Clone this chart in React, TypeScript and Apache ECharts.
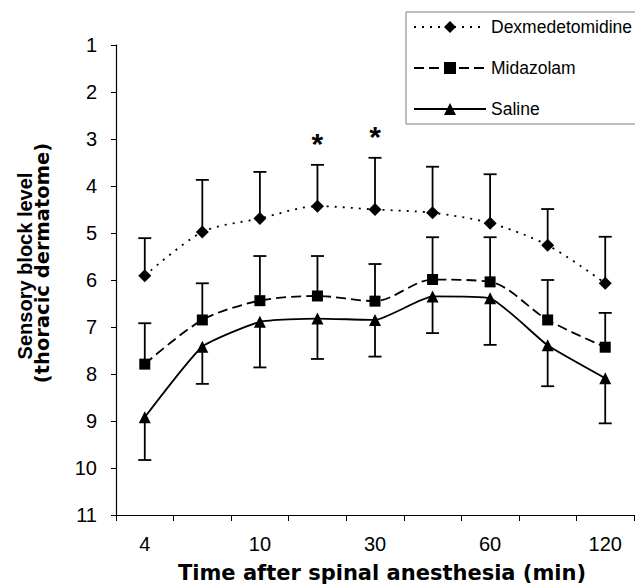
import React, { useEffect, useRef } from 'react';
import * as echarts from 'echarts';

// Time points (min); only every other label is printed on the axis
const categories = ['4', '6', '10', '20', '30', '45', '60', '90', '120'];

// Dexmedetomidine: mean and upper error (smaller number = higher dermatome)
const dexMean = [5.91, 4.98, 4.69, 4.43, 4.5, 4.57, 4.79, 5.26, 6.07];
const dexUpper = [5.11, 3.87, 3.7, 3.55, 3.4, 3.59, 3.75, 4.49, 5.08];

// Midazolam
const midMean = [7.79, 6.85, 6.44, 6.34, 6.45, 5.99, 6.04, 6.85, 7.43];
const midUpper = [6.92, 6.07, 5.49, 5.49, 5.66, 5.09, 5.09, 6.0, 6.7];

// Saline: mean and lower error
const salMean = [8.92, 7.42, 6.89, 6.82, 6.85, 6.35, 6.39, 7.39, 8.09];
const salLower = [9.83, 8.21, 7.86, 7.68, 7.63, 7.13, 7.38, 8.26, 9.05];

// Significant time points (asterisks)
const starIdx = [3, 4];

const seriesNames = ['Dexmedetomidine', 'Midazolam', 'Saline'];

const errorBarSeries = (name: string, mean: number[], end: number[]) => ({
  type: 'custom',
  name: name + ' SD',
  z: 1,
  silent: true,
  encode: { x: 0, y: [1, 2] },
  data: mean.map((m, i) => [i, m, end[i]]),
  renderItem: (params: any, api: any) => {
    const idx = api.value(0);
    const p1 = api.coord([idx, api.value(1)]);
    const p2 = api.coord([idx, api.value(2)]);
    const hw = 6.5;
    return {
      type: 'group',
      children: [
        {
          type: 'line',
          shape: { x1: p1[0], y1: p1[1], x2: p2[0], y2: p2[1] },
          style: { stroke: '#000', lineWidth: 1.8 },
        },
        {
          type: 'line',
          shape: { x1: p2[0] - hw, y1: p2[1], x2: p2[0] + hw, y2: p2[1] },
          style: { stroke: '#000', lineWidth: 1.8 },
        },
      ],
    };
  },
});

export default function App() {
  const ref = useRef<HTMLDivElement>(null);

  useEffect(() => {
    if (!ref.current) return;
    const chart = echarts.init(ref.current, undefined, { renderer: 'svg' });
    const font = "'Liberation Sans', Arial, sans-serif";
    const wideFont = "'DejaVu Sans', sans-serif";

    chart.setOption({
      animation: false,
      backgroundColor: '#fff',
      grid: { left: 116, right: 1, top: 45, bottom: 70, containLabel: false },
      legend: {
        data: seriesNames,
        orient: 'vertical',
        left: 406,
        top: 12,
        itemWidth: 72,
        itemHeight: 15,
        itemGap: 23,
        padding: [6, 4, 6, 7],
        borderColor: '#7f7f7f',
        borderWidth: 1,
        borderRadius: 0,
        textStyle: { fontSize: 17.5, color: '#000', fontFamily: font },
      },
      xAxis: {
        type: 'category',
        data: categories,
        boundaryGap: true,
        axisLine: { lineStyle: { color: '#000', width: 1.2 } },
        axisTick: { show: true, interval: 0, length: 6, lineStyle: { color: '#000' } },
        axisLabel: { interval: 1, fontSize: 20, color: '#000', fontFamily: font, margin: 19 },
        splitLine: { show: false },
      },
      yAxis: {
        type: 'value',
        inverse: true,
        min: 1,
        max: 11,
        interval: 1,
        axisLine: { show: true, lineStyle: { color: '#000', width: 1.2 } },
        axisTick: { show: true, length: 5, lineStyle: { color: '#000' } },
        axisLabel: { fontSize: 20, color: '#000', fontFamily: font, margin: 19 },
        splitLine: { show: false },
      },
      graphic: [
        {
          type: 'text',
          x: 25,
          y: 266,
          rotation: Math.PI / 2,
          style: {
            text: 'Sensory block level',
            fontSize: 20,
            fontWeight: 'bold',
            fontFamily: font,
            fill: '#000',
            align: 'center',
            verticalAlign: 'middle',
          },
        },
        {
          type: 'text',
          x: 42,
          y: 263,
          rotation: Math.PI / 2,
          style: {
            text: '(thoracic dermatome)',
            fontSize: 19.5,
            fontWeight: 'bold',
            fontFamily: wideFont,
            fill: '#000',
            align: 'center',
            verticalAlign: 'middle',
          },
        },
        {
          type: 'text',
          x: 382,
          y: 573,
          style: {
            text: 'Time after spinal anesthesia (min)',
            fontSize: 21,
            fontWeight: 'bold',
            fontFamily: wideFont,
            fill: '#000',
            align: 'center',
            verticalAlign: 'middle',
          },
        },
      ],
      series: [
        errorBarSeries('Dexmedetomidine', dexMean, dexUpper),
        errorBarSeries('Midazolam', midMean, midUpper),
        errorBarSeries('Saline', salMean, salLower),
        {
          type: 'custom',
          name: 'stars',
          silent: true,
          encode: { x: 0, y: 1 },
          data: starIdx.map((i) => [i, dexUpper[i]]),
          renderItem: (params: any, api: any) => {
            const p = api.coord([api.value(0), api.value(1)]);
            return {
              type: 'text',
              x: p[0],
              y: p[1] - 21,
              style: {
                text: '*',
                fontSize: 30,
                fontWeight: 'bold',
                fontFamily: font,
                fill: '#000',
                align: 'center',
                verticalAlign: 'middle',
              },
            };
          },
        },
        {
          type: 'line',
          name: 'Dexmedetomidine',
          data: dexMean,
          smooth: 0.3,
          symbol: 'diamond',
          symbolSize: 13,
          z: 3,
          itemStyle: { color: '#000' },
          lineStyle: { color: '#000', width: 1.8, type: [2, 6] },
        },
        {
          type: 'line',
          name: 'Midazolam',
          data: midMean,
          smooth: 0.3,
          symbol: 'rect',
          symbolSize: 11,
          z: 3,
          itemStyle: { color: '#000' },
          lineStyle: { color: '#000', width: 1.8, type: [10, 5] },
        },
        {
          type: 'line',
          name: 'Saline',
          data: salMean,
          smooth: 0.15,
          symbol: 'triangle',
          symbolSize: 12,
          z: 3,
          itemStyle: { color: '#000' },
          lineStyle: { color: '#000', width: 1.8, type: 'solid' },
        },
      ],
    });

    return () => chart.dispose();
  }, []);

  return (
    <div
      ref={ref}
      style={{ position: 'absolute', left: 0, top: 0, width: 635, height: 585 }}
    />
  );
}
